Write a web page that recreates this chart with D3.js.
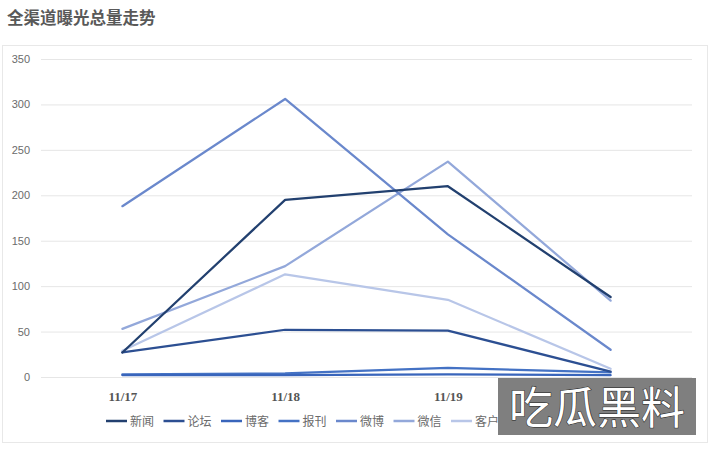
<!DOCTYPE html>
<html><head><meta charset="utf-8">
<script src="https://cdn.jsdelivr.net/npm/d3@7"></script>
<style>body{margin:0;background:#fff;}svg{display:block;}</style>
</head><body>
<svg id="c" width="711" height="450"></svg>
<script>
const categories = ["11/17", "11/18", "11/19", "11/20"];
const seriesNames = ["新闻", "论坛", "博客", "报刊", "微博", "微信", "客户端"];
const news    = [27, 195, 210, 88];
const forum   = [27, 52, 51, 6];
const blog    = [2, 2, 3, 2];
const press   = [3, 4, 10, 5];
const weibo   = [188, 306, 157, 30];
const wechat  = [53, 122, 237, 84];
const app     = [29, 113, 85, 9];
const yTicks  = [0, 50, 100, 150, 200, 250, 300, 350];
const colors  = ["#22406f", "#2c4f92", "#3965bb", "#4472c4", "#6a88cc", "#93a8da", "#b8c6e8"];

const allSeries = [news, forum, blog, press, weibo, wechat, app];
const svg = d3.select("#c");

svg.append("rect").attr("x", 2.5).attr("y", 45.5).attr("width", 705).attr("height", 397)
  .attr("fill", "none").attr("stroke", "#e8e8e8");

svg.append("text").attr("x", 7).attr("y", 24).text("全渠道曝光总量走势")
  .attr("font-family", "Noto Sans CJK SC").attr("font-weight", "bold")
  .attr("font-size", 16.5).attr("fill", "#595959");

const x = d3.scalePoint().domain(categories).range([41, 692]).padding(0.5);
const y = d3.scaleLinear().domain([0, 350]).range([377, 59]);

const grid = svg.append("g");
grid.selectAll("line").data(yTicks).join("line")
  .attr("x1", 41).attr("x2", 692)
  .attr("y1", d => y(d) + 0.5).attr("y2", d => y(d) + 0.5)
  .attr("stroke", "#e6e6e6").attr("stroke-width", 1);

const yAxis = svg.append("g").attr("transform", "translate(41,0)")
  .call(d3.axisLeft(y).tickValues(yTicks).tickSize(0).tickPadding(11));
yAxis.select(".domain").remove();
yAxis.selectAll("text").attr("font-family", "Liberation Sans").attr("font-size", 11).attr("fill", "#6b6b6b");

const xAxis = svg.append("g").attr("transform", "translate(0,392)")
  .call(d3.axisBottom(x).tickSize(0).tickPadding(0));
xAxis.select(".domain").remove();
xAxis.selectAll("text").attr("font-family", "Liberation Serif").attr("font-weight", "bold")
  .attr("font-size", 13).attr("fill", "#555");

const line = d3.line().x((d, i) => x(categories[i])).y(d => y(d));
const order = [6, 5, 4, 3, 2, 1, 0];
svg.append("g").selectAll("path").data(order).join("path")
  .attr("d", i => line(allSeries[i]))
  .attr("fill", "none").attr("stroke", i => colors[i])
  .attr("stroke-width", 2.25).attr("stroke-linejoin", "round").attr("stroke-linecap", "round");

const lg = svg.append("g").selectAll("g").data(seriesNames).join("g")
  .attr("transform", (d, i) => `translate(${106 + i * 57.5},421)`);
lg.append("line").attr("x1", 0).attr("x2", 21).attr("y1", 0).attr("y2", 0)
  .attr("stroke", (d, i) => colors[i]).attr("stroke-width", 2.5);
lg.append("text").attr("x", 24).attr("y", 4.5).text(d => d)
  .attr("font-family", "Noto Sans CJK SC").attr("font-size", 12).attr("fill", "#6b6b6b");

svg.append("rect").attr("x", 498).attr("y", 378).attr("width", 198).attr("height", 57).attr("fill", "#7f7f7f");
svg.append("text").attr("x", 597).attr("y", 424).attr("text-anchor", "middle").text("吃瓜黑料")
  .attr("font-family", "Noto Sans CJK SC").attr("font-size", 44).attr("fill", "#fff")
  .attr("stroke", "#222").attr("stroke-width", 1).attr("paint-order", "stroke");
</script>
</body></html>
